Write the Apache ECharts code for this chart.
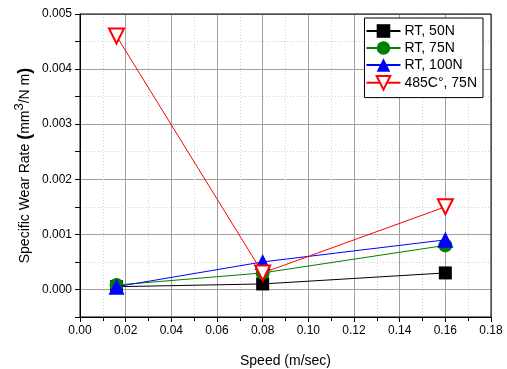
<!DOCTYPE html>
<html>
<head>
<meta charset="utf-8">
<script src="https://cdn.jsdelivr.net/npm/echarts@6/dist/echarts.min.js"></script>
<style>
  html, body { margin: 0; padding: 0; background: #fff; }
  #chart { width: 507px; height: 369px; }
</style>
</head>
<body>
<div id="chart"></div>
<script>
// speeds (m/sec)
const speeds = [0.016, 0.08, 0.16];
// specific wear rate (mm^3/N m)
const rt50 = [0.00005, 0.0001, 0.0003];
const rt75 = [0.00008, 0.0003, 0.0008];
const rt100 = [0.00005, 0.0005, 0.0009];
const hot75 = [0.0046, 0.0003, 0.0015];
const seriesNames = ['RT, 50N', 'RT, 75N', 'RT, 100N', '485C°, 75N'];

const font = 'Liberation Sans, Arial, sans-serif';
const pairs = arr => speeds.map((s, i) => [s, arr[i]]);

const chart = echarts.init(document.getElementById('chart'), null, { renderer: 'canvas' });

const option = {
  backgroundColor: '#fff',
  animation: false,
  textStyle: { fontFamily: font },
  grid: { left: 80, right: 16, top: 14, bottom: 52, show: false, containLabel: false, outerBoundsMode: 'none' },
  legend: {
    orient: 'vertical',
    right: 24,
    top: 18,
    backgroundColor: '#fff',
    borderColor: '#000',
    borderWidth: 1,
    borderRadius: 0,
    padding: [6, 6, 7, 1],
    itemGap: 3,
    itemWidth: 34,
    itemHeight: 17,
    textStyle: { fontFamily: font, fontSize: 14, color: '#000', padding: [0, 0, 0, -1] },
    data: seriesNames
  },
  xAxis: {
    type: 'value',
    min: 0,
    max: 0.18,
    interval: 0.02,
    name: 'Speed (m/sec)',
    nameLocation: 'middle',
    nameGap: 37,
    nameMoveOverlap: false,
    nameTextStyle: { fontFamily: font, fontSize: 14, color: '#000' },
    axisLine: { show: true, onZero: false, lineStyle: { color: '#000', width: 1 } },
    axisTick: { show: true, inside: false, length: 5, lineStyle: { color: '#000' } },
    minorTick: { show: true, splitNumber: 2, length: 4, lineStyle: { color: '#000' } },
    axisLabel: { color: '#000', fontSize: 12, fontFamily: font, margin: 8,
      formatter: v => v.toFixed(2) },
    splitLine: { show: true, lineStyle: { color: '#a0a0a0', width: 1 } },
    minorSplitLine: { show: true, lineStyle: { color: '#d0d0d0', type: [1, 2], width: 1 } }
  },
  yAxis: [{
    type: 'value',
    min: -0.0005,
    max: 0.005,
    interval: 0.0005,
    name: 'Specific Wear Rate {p|(}mm{sup|3}/N m{p|)}',
    nameLocation: 'middle',
    nameGap: 42,
    nameMoveOverlap: false,
    nameTextStyle: {
      fontFamily: font, fontSize: 14, color: '#000',
      rich: {
        sup: { fontSize: 13, verticalAlign: 'top', padding: [0, 0, 12, 0], fontFamily: font },
        p: { fontSize: 18, fontWeight: 'bold', fontFamily: font }
      }
    },
    axisLine: { show: true, onZero: false, lineStyle: { color: '#000', width: 1 } },
    axisTick: { show: true, inside: false, length: 5, lineStyle: { color: '#000' } },
    axisLabel: {
      color: '#000', fontSize: 12, fontFamily: font, margin: 8,
      formatter: v => {
        const k = Math.round(v * 10000);
        return (k % 10 === 0) ? (k / 10000).toFixed(3) : '';
      }
    },
    splitLine: { show: true, lineStyle: { color: ['#d0d0d0', 'transparent'], type: [1, 2], width: 1 } }
  }, {
    type: 'value',
    position: 'left',
    min: -0.0005,
    max: 0.005,
    interval: 0.0005,
    axisLine: { show: false },
    axisTick: { show: false },
    axisLabel: { show: false },
    splitLine: { show: true, lineStyle: { color: ['transparent', '#a0a0a0'], width: 1 } }
  }],
  series: [
    {
      name: seriesNames[0], type: 'line', data: pairs(rt50),
      symbol: 'rect', symbolSize: 13,
      itemStyle: { color: '#000' }, lineStyle: { color: '#000', width: 1 }, z: 3
    },
    {
      name: seriesNames[1], type: 'line', data: pairs(rt75),
      symbol: 'circle', symbolSize: 14,
      itemStyle: { color: '#008000' }, lineStyle: { color: '#008000', width: 1 }, z: 4
    },
    {
      name: seriesNames[2], type: 'line', data: pairs(rt100),
      symbol: 'triangle', symbolSize: 16,
      itemStyle: { color: '#0000ff' }, lineStyle: { color: '#0000ff', width: 1 }, z: 5
    },
    {
      name: seriesNames[3], type: 'line', data: pairs(hot75),
      symbol: 'triangle', symbolRotate: 180, symbolSize: 15,
      itemStyle: { color: '#fff', borderColor: '#ff0000', borderWidth: 2 },
      lineStyle: { color: '#ff0000', width: 1 }, z: 6
    }
  ],
  graphic: [{
    type: 'rect',
    shape: { x: 80, y: 14, width: 411, height: 303 },
    style: { fill: 'none', stroke: '#000', lineWidth: 1 },
    z: 10, silent: true
  }]
};

chart.setOption(option);
</script>
</body>
</html>
